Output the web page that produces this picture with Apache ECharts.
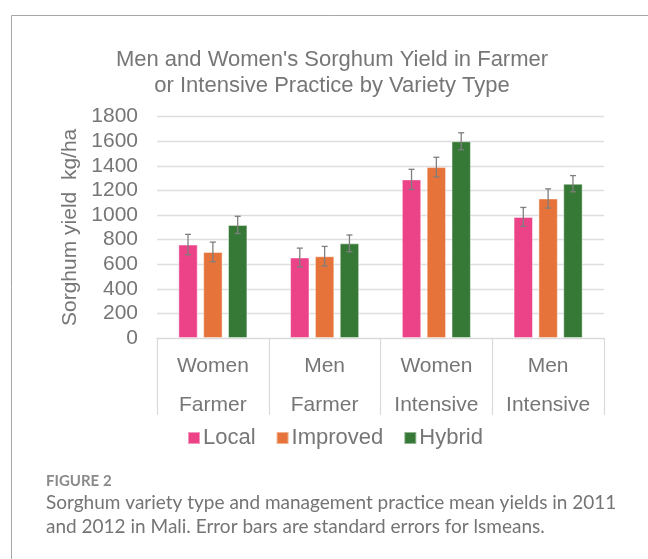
<!DOCTYPE html>
<html>
<head>
<meta charset="utf-8">
<title>Sorghum yield</title>
<script src="https://cdn.jsdelivr.net/npm/echarts@6/dist/echarts.min.js"></script>
<style>
  html, body { margin: 0; padding: 0; background: #fff; }
  #chart { width: 648px; height: 559px; }
</style>
</head>
<body>
<div id="chart"></div>
<script>
// categories (two-line labels)
var categories = ['Women\nFarmer', 'Men\nFarmer', 'Women\nIntensive', 'Men\nIntensive']
var seriesNames = ['Local', 'Improved', 'Hybrid']
// mean yields, kg/ha
var localYield = [760, 655, 1290, 985]
var improvedYield = [700, 665, 1390, 1135]
var hybridYield = [920, 770, 1600, 1255]
// standard errors
var localSE = [83, 76, 82, 77]
var improvedSE = [80, 80, 80, 78]
var hybridSE = [70, 68, 69, 66]
var yTicks = [0, 200, 400, 600, 800, 1000, 1200, 1400, 1600, 1800]

var colors = ['#EC4388', '#E5733A', '#367936']
var grey = '#767676'
var barWidth = 19.4
var barGap = 0.28

var myChart = echarts.init(document.getElementById('chart'))

// error bars drawn on top of each bar
function errorSeries (idx, means, errs) {
  var data = means.map(function (m, i) { return [i, m, errs[i]] })
  return {
    type: 'custom',
    name: seriesNames[idx] + ' SE',
    silent: true,
    z: 5,
    data: data,
    renderItem: function (params, api) {
      var offset = (idx - 1) * barWidth * (1 + barGap)
      var hi = api.coord([api.value(0), api.value(1) + api.value(2)])
      var lo = api.coord([api.value(0), api.value(1) - api.value(2)])
      var x = hi[0] + offset
      var cap = 3
      var style = { stroke: '#7f7f7f', lineWidth: 1.3 }
      return {
        type: 'group',
        children: [
          { type: 'line', shape: { x1: x, y1: hi[1], x2: x, y2: lo[1] }, style: style },
          { type: 'line', shape: { x1: x - cap, y1: hi[1], x2: x + cap, y2: hi[1] }, style: style },
          { type: 'line', shape: { x1: x - cap, y1: lo[1], x2: x + cap, y2: lo[1] }, style: style }
        ]
      }
    }
  }
}

function barSeries (idx, values) {
  return {
    name: seriesNames[idx],
    type: 'bar',
    barWidth: barWidth,
    barGap: (barGap * 100) + '%',
    itemStyle: { color: colors[idx], borderColor: 'rgba(255,255,255,0.45)', borderWidth: 1 },
    data: values
  }
}

myChart.setOption({
  animation: false,
  textStyle: { fontFamily: 'Liberation Sans, Arial, sans-serif' },
  title: {
    text: "Men and Women's Sorghum Yield in Farmer\nor Intensive Practice by Variety Type",
    left: 332,
    textAlign: 'center',
    top: 47,
    padding: 0,
    textStyle: { color: grey, fontSize: 22, fontWeight: 'normal', lineHeight: 26, fontFamily: 'Liberation Sans' }
  },
  legend: {
    data: seriesNames,
    left: 187,
    top: 427,
    padding: 0,
    icon: 'rect',
    itemWidth: 12,
    itemHeight: 12,
    itemGap: 20,
    textStyle: { color: grey, fontSize: 22, padding: [0, 0, 0, -2] }
  },
  grid: { left: 157, right: 44, top: 116.7, bottom: 221 },
  xAxis: {
    type: 'category',
    data: categories,
    axisLine: { lineStyle: { color: '#d9d9d9', width: 1.2 } },
    axisTick: { show: true, interval: 0, length: 77, lineStyle: { color: '#d9d9d9', width: 1.2 } },
    axisLabel: { interval: 0, color: grey, fontSize: 21, lineHeight: 39, margin: 9 }
  },
  yAxis: {
    type: 'value',
    min: yTicks[0],
    max: yTicks[yTicks.length - 1],
    interval: yTicks[1] - yTicks[0],
    name: 'Sorghum yield  kg/ha',
    nameLocation: 'middle',
    nameRotate: 90,
    nameGap: 65,
    nameTextStyle: { color: grey, fontSize: 21 },
    axisLine: { show: false },
    axisTick: { show: false },
    axisLabel: { color: grey, fontSize: 21, margin: 19, formatter: function (v) { return String(v) } },
    splitLine: { lineStyle: { color: '#dedede', width: 1.3 } }
  },
  series: [
    barSeries(0, localYield),
    barSeries(1, improvedYield),
    barSeries(2, hybridYield),
    errorSeries(0, localYield, localSE),
    errorSeries(1, improvedYield, improvedSE),
    errorSeries(2, hybridYield, hybridSE)
  ],
  graphic: [
    {
      type: 'rect',
      shape: { x: 11.5, y: 15.5, width: 700, height: 600 },
      style: { fill: 'none', stroke: '#a6a6a6', lineWidth: 1 },
      silent: true
    },
    {
      type: 'text',
      left: 46,
      top: 474,
      style: { text: 'FIGURE 2', fill: '#8a8a8a', font: 'bold 15px Lato, sans-serif' }
    },
    {
      type: 'text',
      left: 46,
      top: 491,
      style: {
        text: 'Sorghum variety type and management practice mean yields in 2011\nand 2012 in Mali. Error bars are standard errors for lsmeans.',
        fill: '#747474',
        font: '19px Lato, sans-serif',
        lineHeight: 24
      }
    }
  ]
})
</script>
</body>
</html>
